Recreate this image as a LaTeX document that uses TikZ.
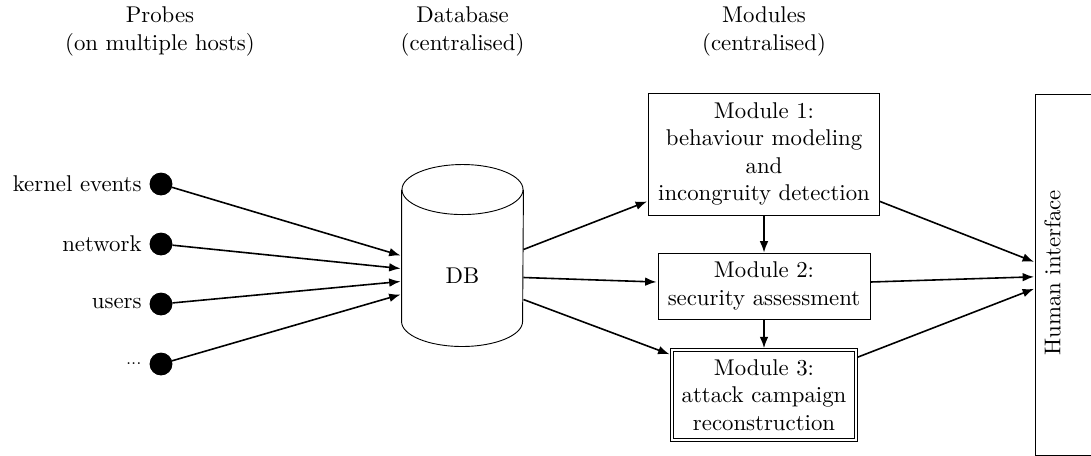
\documentclass[tikz,border=0pt]{standalone}
\usetikzlibrary{arrows.meta,calc}
\begin{document}
\begin{tikzpicture}[x=0.4386pt,y=-0.4386pt,
  arr/.style={line width=0.7pt,-{Latex[length=5pt,width=3.8pt]}},
  probe/.style={circle,fill=black,draw=black,minimum size=9.6pt,inner sep=0pt},
  modbox/.style={draw,line width=0.4pt,align=center,inner sep=3.33pt},
  head/.style={align=center}
]
\useasboundingbox (0,0) rectangle (1091,455);

% headers
\node[head] (hp) at (160,31.5) {Probes\\(on multiple hosts)};
\node[head] (hd) at (462.5,31.5) {Database\\(centralised)};
\node[head] (hm) at (764,31.5) {Modules\\(centralised)};

% probes
\node[probe,label={left:kernel events}] (p1) at (161,184) {};
\node[probe,label={left:network}] (p2) at (161,244) {};
\node[probe,label={left:users}] (p3) at (161,304) {};
\node[probe,label={left:\scriptsize ...}] (p4) at (161,364) {};

% database cylinder
\node[minimum width=53.07pt,minimum height=79.4pt,inner sep=0pt] (db) at (462.5,255.5) {};
\draw[line width=0.4pt] ($(db.north west)+(0,25)$) -- ($(db.south west)+(0,-25)$)
  arc[start angle=180,end angle=360,x radius=26.54pt,y radius=10.97pt]
  -- ($(db.north east)+(0,25)$);
\draw[line width=0.4pt] ($(db.north)+(0,25)$) ellipse [x radius=26.54pt,y radius=10.97pt];
\node (dbl) at (462.5,275.5) {DB};

% modules
\node[modbox,minimum width=101.3pt,minimum height=53.5pt] (m1) at (764,154)
  {Module 1:\\behaviour modeling\\and\\incongruity detection};
\node[modbox,minimum width=93pt,minimum height=28.9pt] (m2) at (764,286)
  {Module 2:\\security assessment};
\node[modbox,inner ysep=2.6pt,minimum width=79pt,minimum height=38pt] (m3) at (764,395)
  {Module 3:\\attack campaign\\reconstruction};
\draw[line width=0.4pt] ($(m3.north west)+(-1.15pt,1.15pt)$) rectangle ($(m3.south east)+(1.15pt,-1.15pt)$);

% human interface
\node[draw,line width=0.4pt,anchor=north west,minimum width=60pt,minimum height=158.2pt,inner sep=0pt] (hi) at (1035,94) {};
\node[rotate=90] (hil) at (1052.5,273) {Human interface};

% probe arrows
\draw[arr] (p1) -- ($(db.west |- dbl)+(-1,-20)$);
\draw[arr] (p2) -- ($(db.west |- dbl)+(-1,-7)$);
\draw[arr] (p3) -- ($(db.west |- dbl)+(-1,6)$);
\draw[arr] (p4) -- ($(db.west |- dbl)+(-1,19)$);

% db to modules
\draw[arr] ($(db.east |- dbl)+(0,-26)$) -- ($(m1.south west)+(-1,-14)$);
\draw[arr] ($(db.east |- dbl)+(0,2)$) -- ($(m2.west)+(-1,-4)$);
\draw[arr] ($(db.east |- dbl)+(0,24)$) -- ($(m3.north west)+(-4,3)$);

% module chain
\draw[arr] (m1.south) -- (m2.north);
\draw[arr] (m2.south) -- ($(m3.north)+(0,-3)$);

% modules to human interface
\draw[arr] ($(m1.south east)+(0,-14)$) -- ($(hi.west)+(-1,-13)$);
\draw[arr] ($(m2.east)+(0,-4)$) -- ($(hi.west)+(-1,2)$);
\draw[arr] ($(m3.north east)+(3,6)$) -- ($(hi.west)+(-1,14)$);
\end{tikzpicture}
\end{document}
